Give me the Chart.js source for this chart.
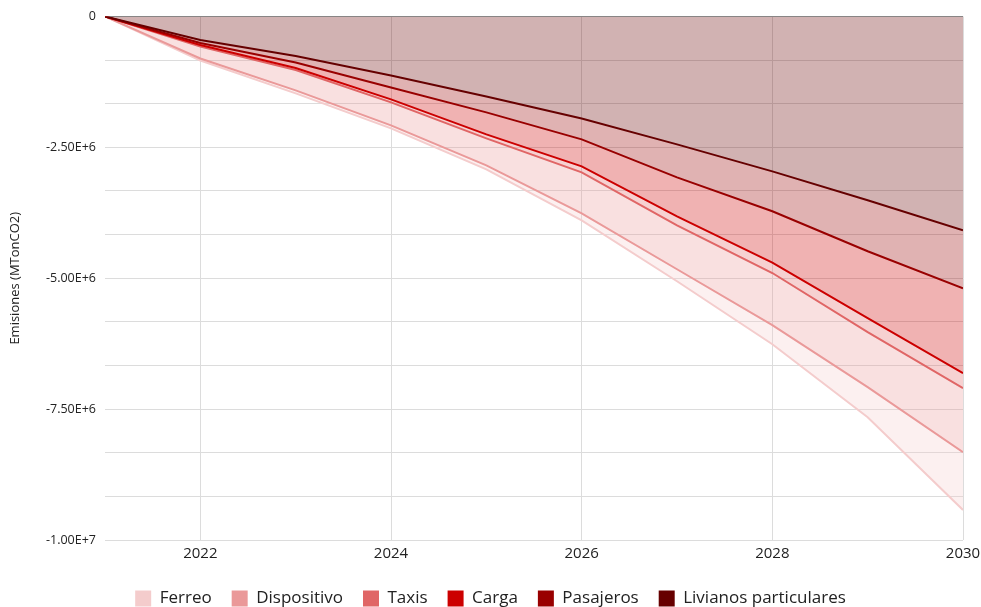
<!DOCTYPE html>
<html>
<head>
<meta charset="utf-8">
<script src="https://cdn.jsdelivr.net/npm/chart.js@4/dist/chart.umd.min.js"></script>
<style>
  html, body { margin: 0; padding: 0; background: #fff; overflow: hidden; }
  #emisionesChart { display: block; }
</style>
</head>
<body>
<canvas id="emisionesChart" width="981" height="607"></canvas>
<script>
// ========================
//    data
// ========================
const years = [2021, 2022, 2023, 2024, 2025, 2026, 2027, 2028, 2029, 2030];

// stacked from the top (closest to 0) down
const livianos   = [0, -448000, -754000, -1126000, -1527000, -1947000, -2443000, -2958000, -3511000, -4084000];
const pasajeros  = [0, -58000, -124000, -229000, -305000, -400000, -630000, -763000, -974000, -1107000];
const carga      = [0, -38000, -105000, -229000, -420000, -516000, -744000, -979000, -1275000, -1622000];
const taxis      = [0, -29000, -38000, -57000, -76000, -114000, -172000, -200000, -271000, -286000];
const dispositivo = [0, -229000, -391000, -439000, -516000, -783000, -839000, -997000, -1049000, -1222000];
const ferreo     = [0, -38000, -57000, -57000, -76000, -133000, -229000, -363000, -574000, -1106000];

const xTicks = [2022, 2024, 2026, 2028, 2030];
const yMin = -10000000;
const yGridSteps = 12;   // minor grid every 1/3 of a label step

const series = [
  { label: "Livianos particulares", data: livianos, color: "#660000" },
  { label: "Pasajeros", data: pasajeros, color: "#990000" },
  { label: "Carga", data: carga, color: "#cc0000" },
  { label: "Taxis", data: taxis, color: "#e06666" },
  { label: "Dispositivo", data: dispositivo, color: "#ea9999" },
  { label: "Ferreo", data: ferreo, color: "#f4cccc" }
];

function alpha(hex, a) {
  const n = parseInt(hex.slice(1), 16);
  return `rgba(${(n >> 16) & 255}, ${(n >> 8) & 255}, ${n & 255}, ${a})`;
}

const FONT = "'Open Sans', 'Noto Sans', sans-serif";

new Chart(document.getElementById("emisionesChart"), {
  type: "line",
  data: {
    datasets: series.map((s, i) => ({
      label: s.label,
      data: s.data.map((v, j) => ({ x: years[j], y: v })),
      borderColor: s.color,
      backgroundColor: alpha(s.color, 0.3),
      borderWidth: 2,
      pointRadius: 0,
      tension: 0,
      fill: i === 0 ? "origin" : "-1"
    }))
  },
  options: {
    responsive: false,
    animation: false,
    // negative bottom padding pushes the legend down to the canvas edge
    layout: { padding: { left: 0, right: 0, top: 7, bottom: -10 } },
    scales: {
      x: {
        type: "linear",
        min: 2021,
        max: 2030,
        afterBuildTicks: scale => { scale.ticks = xTicks.map(v => ({ value: v })); },
        afterFit: scale => {
          scale.height = 30;
          scale.paddingRight = 18;
        },
        border: { display: false },
        grid: { color: "#dcdcdc", lineWidth: 1, drawTicks: false },
        ticks: {
          color: "#222",
          font: { family: FONT, size: 15 },
          padding: 5,
          maxRotation: 0,
          callback: v => String(v)
        }
      },
      y: {
        stacked: true,
        min: yMin,
        max: 0,
        afterBuildTicks: scale => {
          const t = [];
          for (let i = 0; i <= yGridSteps; i++) t.push({ value: yMin + (i * (0 - yMin)) / yGridSteps });
          scale.ticks = t;
        },
        afterFit: scale => { scale.width = 105; },
        border: { display: false },
        grid: {
          color: ctx => (ctx.tick && ctx.tick.value === 0 ? "#8a8a8a" : "#dcdcdc"),
          drawTicks: false
        },
        ticks: {
          color: "#222",
          font: { family: FONT, size: 12.5 },
          padding: 9,
          autoSkip: false,
          callback: (v, i) => {
            if (i % 3 !== 0) return "";
            if (Math.abs(v) < 1) return "0";
            return v.toExponential(2).toUpperCase();
          }
        },
        title: {
          display: true,
          text: "Emisiones (MTonCO2)",
          color: "#222",
          font: { family: FONT, size: 13 },
          padding: { top: 7, bottom: 0 }
        }
      }
    },
    plugins: {
      tooltip: { enabled: false },
      legend: {
        position: "bottom",
        reverse: true,
        labels: {
          color: "#222",
          font: { family: FONT, size: 17 },
          boxWidth: 16,
          boxHeight: 16,
          padding: 20,
          generateLabels: chart =>
            Chart.defaults.plugins.legend.labels.generateLabels(chart).map(l => ({
              ...l,
              fillStyle: series[l.datasetIndex].color,
              strokeStyle: series[l.datasetIndex].color,
              lineWidth: 0
            }))
        }
      }
    }
  }
});
</script>
</body>
</html>
